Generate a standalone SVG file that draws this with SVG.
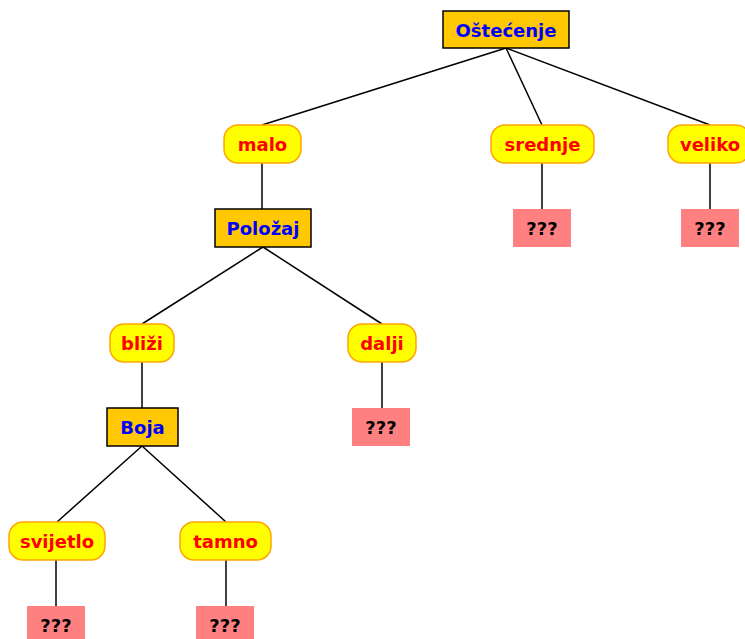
<svg xmlns="http://www.w3.org/2000/svg" width="745" height="639" viewBox="0 0 745 639">
<style>
text{font-family:"DejaVu Sans",sans-serif;font-weight:bold;font-size:18px;text-anchor:middle;dominant-baseline:central}
.attr rect{fill:#ffc800;stroke:#000;stroke-width:1.5}
.attr text{fill:#0000ff}
.val rect{fill:#ffff00;stroke:#ffa500;stroke-width:1.5}
.val text{fill:#ff0000}
.leaf rect{fill:#ff8080}
.leaf text{fill:#000}
#edges line{stroke:#000;stroke-width:1.5}
</style>
<rect width="745" height="639" fill="#fff"/>
<g id="edges">
<line x1="506" y1="48" x2="262" y2="125"/>
<line x1="506" y1="48" x2="542" y2="125"/>
<line x1="506" y1="48" x2="710" y2="125"/>
<line x1="262" y1="163" x2="262" y2="209"/>
<line x1="542" y1="163" x2="542" y2="209"/>
<line x1="710" y1="163" x2="710" y2="209"/>
<line x1="263" y1="247" x2="142" y2="324"/>
<line x1="263" y1="247" x2="382" y2="324"/>
<line x1="142" y1="362" x2="142" y2="408"/>
<line x1="382" y1="362" x2="382" y2="408"/>
<line x1="142" y1="446" x2="57" y2="522"/>
<line x1="142" y1="446" x2="226" y2="522"/>
<line x1="56" y1="560" x2="56" y2="606"/>
<line x1="226" y1="560" x2="226" y2="606"/>
</g>
<g id="n-ostecenje" class="attr"><rect x="443" y="11" width="126" height="37"/><text x="506" y="30">Oštećenje</text></g>
<g id="n-malo" class="val"><rect x="224" y="125" width="77" height="38" rx="14"/><text x="262.5" y="144.5">malo</text></g>
<g id="n-srednje" class="val"><rect x="491" y="125" width="103" height="38" rx="14"/><text x="542.5" y="144.5">srednje</text></g>
<g id="n-veliko" class="val"><rect x="668" y="125" width="82" height="38" rx="14"/><text x="710" y="144.5">veliko</text></g>
<g id="n-polozaj" class="attr"><rect x="215" y="209" width="96" height="38"/><text x="263" y="228">Položaj</text></g>
<g id="n-q1" class="leaf"><rect x="513" y="209" width="58" height="38"/><text x="542" y="228">???</text></g>
<g id="n-q2" class="leaf"><rect x="681" y="209" width="58" height="38"/><text x="710" y="228">???</text></g>
<g id="n-blizi" class="val"><rect x="110" y="324" width="64" height="38" rx="14"/><text x="142" y="343">bliži</text></g>
<g id="n-dalji" class="val"><rect x="348" y="324" width="68" height="38" rx="14"/><text x="382" y="343">dalji</text></g>
<g id="n-boja" class="attr"><rect x="107" y="408" width="71" height="38"/><text x="142.5" y="427">Boja</text></g>
<g id="n-q3" class="leaf"><rect x="352" y="408" width="58" height="38"/><text x="381" y="427">???</text></g>
<g id="n-svijetlo" class="val"><rect x="9" y="522" width="96" height="38" rx="14"/><text x="57" y="541">svijetlo</text></g>
<g id="n-tamno" class="val"><rect x="180" y="522" width="91" height="38" rx="14"/><text x="225.5" y="541">tamno</text></g>
<g id="n-q4" class="leaf"><rect x="27" y="606" width="58" height="38"/><text x="56" y="625">???</text></g>
<g id="n-q5" class="leaf"><rect x="196" y="606" width="58" height="38"/><text x="225" y="625">???</text></g>
</svg>
